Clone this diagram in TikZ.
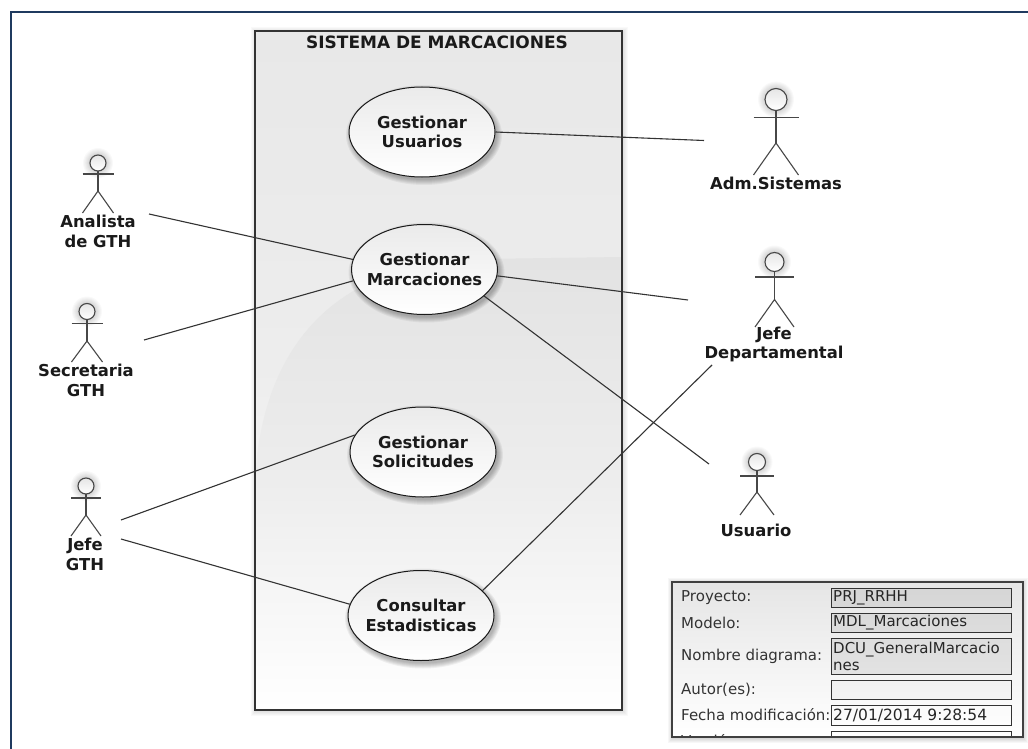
\documentclass[tikz,border=0pt]{standalone}
\usepackage{fontspec}
\setmainfont{DejaVu Sans}
\usetikzlibrary{shapes.geometric}
\definecolor{frame}{HTML}{1F3A5F}
\definecolor{ink}{HTML}{1A1A1A}
\tikzset{
  ucase/.style={ellipse,draw=ink,line width=1pt,inner sep=-10pt,minimum width=146pt,minimum height=90pt,
    top color=white!92!black,middle color=white!88!black,bottom color=white,align=center,text=ink,
    font=\fontsize{16.4}{19.5}\selectfont\bfseries},
  aname/.style={inner sep=0pt,align=center,text=ink,font=\fontsize{16.4}{19.5}\selectfont\bfseries},
  link/.style={draw=black!80,line width=1.1pt},
  limb/.style={draw=black!72,line width=1.1pt},
  flabel/.style={inner sep=0pt,anchor=west,text=black!80,font=\fontsize{15}{16}\selectfont},
  fbox/.style={draw=black!80,line width=1pt,fill=black,fill opacity=0.07,text opacity=1},
  ftext/.style={inner sep=0pt,anchor=west,align=left,text=black!85,font=\fontsize{15}{17}\selectfont},
}
% cx, head cy, r, half width, arm y, hip y, foot y
\newcommand\actorfig[7]{%
  \foreach \g in {7,6,...,1}{\fill[black,opacity=0.025] (#1,#2) circle[radius=#3+\g];}
  \shade[top color=white!90!black,bottom color=white] (#1,#2) circle[radius=#3];
  \draw[limb] (#1,#2) circle[radius=#3];
  \draw[limb] (#1,#2+#3) -- (#1,#6);
  \draw[limb] (#1-#4,#5) -- (#1+#4,#5);
  \draw[limb] (#1-#4,#7) -- (#1,#6) -- (#1+#4,#7);
}
\newcommand\softell[4]{%
  \foreach \g in {6,5,...,1}{\fill[black,opacity=0.05] (#1+2,#2+3) ellipse[x radius=#3+\g-1,y radius=#4+\g-1];}
}
\begin{document}
\begin{tikzpicture}[x=1pt,y=-1pt]
\useasboundingbox (0,0) rectangle (1028,749);
\fill[white] (0,0) rectangle (1028,749);
% outer frame
\draw[frame,line width=2pt] (1028,12) -- (11,12) -- (11,749);
% system box shadow
\foreach \g in {5,4,...,1}{\fill[black,opacity=0.025] (255-\g+1,31-\g+1) rectangle (622+\g+1,710+\g+1);}
\shade[top color=white!91!black,bottom color=white,middle color=white!93!black] (255,31) rectangle (622,710);
\begin{scope}
  \clip (255,31) rectangle (622,710);
  \shade[top color=white!89!black,bottom color=white,middle color=white!93!black]
    (256,465) .. controls (268,340) and (340,262) .. (480,259) -- (622,257) -- (622,710) -- (256,710) -- cycle;
\end{scope}
\draw[black!80,line width=1.2pt] (255,31) rectangle (622,710);
\node[aname,font=\fontsize{17}{19}\selectfont\bfseries] (title) at (437,42) {SISTEMA DE MARCACIONES};
% use case shadows
\softell{422}{132}{73}{45}
\softell{424.5}{269.5}{73}{45}
\softell{423}{452}{73}{45}
\softell{421}{615.5}{73}{45}
% use cases
\node[ucase] (ucu) at (422,132) {Gestionar\\Usuarios};
\node[ucase] (ucm) at (424.5,269.5) {Gestionar\\Marcaciones};
\node[ucase] (ucs) at (423,452) {Gestionar\\Solicitudes};
\node[ucase] (ucc) at (421,615.5) {Consultar\\Estadisticas};
% actors
\actorfig{98}{163}{8}{15.5}{174}{191}{213}
\actorfig{87}{311.5}{8}{15.5}{323.5}{341}{362}
\actorfig{86}{486}{8}{15}{498}{515}{536}
\actorfig{776}{99.5}{11}{22.5}{117.5}{143}{175}
\actorfig{774.5}{262}{9.5}{19.5}{277}{299.5}{327}
\actorfig{757}{462}{8.5}{17}{476}{492}{515}
\node[aname] (nan) at (98,231.5) {Analista\\de GTH};
\node[aname] (nse) at (86,380.5) {Secretaria\\GTH};
\node[aname] (nje) at (85,554.5) {Jefe\\GTH};
\node[aname] (nad) at (776,183) {Adm.Sistemas};
\node[aname] (njd) at (774,344.5) {Jefe\\Departamental};
\node[aname] (nus) at (756,530) {Usuario};
% free ends of connectors
\coordinate (pan) at (149,214);
\coordinate (pse) at (144,340);
\coordinate (pj1) at (121,520);
\coordinate (pj2) at (121,539);
\coordinate (pad) at (704,140.5);
\coordinate (pd1) at (688,300);
\coordinate (pd2) at (712,365);
\coordinate (pus) at (709,464);
\draw[link] (pan) -- (ucm.172.4);
\draw[link] (pse) -- (ucm.189.9);
\draw[link] (pj1) -- (ucs.166.5);
\draw[link] (pj2) -- (ucc.171);
\draw[link] (ucu.east) -- (pad);
\draw[link] (ucm.-5) -- (pd1);
\draw[link] (ucm.-24) -- (pus);
\draw[link] (ucc.22) -- (pd2);
% info table
\foreach \g in {5,4,...,1}{\fill[black,opacity=0.03] (672-\g+1,582-\g+1) rectangle (1023+\g,737+\g+1);}
\shade[top color=white!90!black,bottom color=white] (672,582) rectangle (1023,737);
\begin{scope}
  \clip (672,582) rectangle (1023,737);
  \node[flabel] (l1) at (681,597.5) {Proyecto:};
  \node[flabel] (l2) at (681,622.5) {Modelo:};
  \node[flabel] (l3) at (681,656.5) {Nombre diagrama:};
  \node[flabel] (l4) at (681,690) {Autor(es):};
  \node[flabel] (l5) at (681,715) {Fecha modificación:};
  \node[flabel] (l6) at (681,741) {Versión:};
  \draw[fbox] (831,588) rectangle (1011,607);
  \draw[fbox] (831,613) rectangle (1011,632);
  \draw[fbox] (831,638) rectangle (1011,674);
  \draw[fbox,fill opacity=0.02] (831,680) rectangle (1011,699);
  \draw[fbox,fill opacity=0] (831,705) rectangle (1011,725);
  \draw[fbox,fill opacity=0] (831,731) rectangle (1011,750);
  \node[ftext] (v1) at (833,597.5) {PRJ\_RRHH};
  \node[ftext] (v2) at (833,622.5) {MDL\_Marcaciones};
  \node[ftext] (v3) at (833,656) {DCU\_GeneralMarcacio\\nes};
  \node[ftext,font=\fontsize{15.5}{17}\selectfont] (v5) at (833,715) {27/01/2014 9:28:54};
\end{scope}
\draw[black!75,line width=1.2pt] (672,582) rectangle (1023,737);
\end{tikzpicture}
\end{document}
